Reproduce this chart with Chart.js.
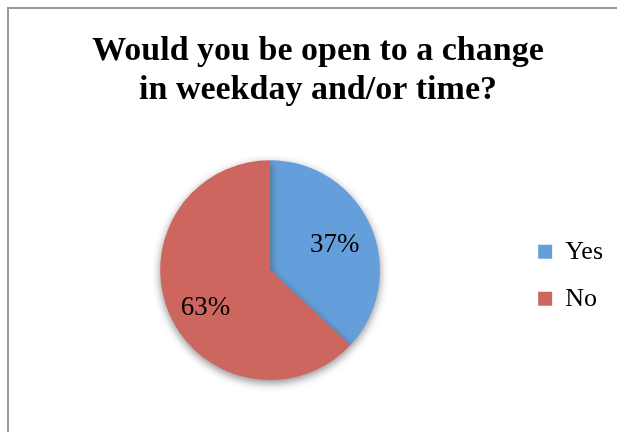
<!DOCTYPE html>
<html>
<head>
<meta charset="utf-8">
<script src="https://cdn.jsdelivr.net/npm/chart.js@4/dist/chart.umd.min.js"></script>
<style>
  html, body { margin: 0; padding: 0; background: #fff; }
  #wrap { position: relative; width: 617px; height: 432px; }
</style>
</head>
<body>
<div id="wrap"><canvas id="myChart" width="617" height="432"></canvas></div>
<script>
'use strict';
// chart data
const categories = ['Yes', 'No'];
const percentValues = [37, 63];
const sliceColors = ['#659fdb', '#cc665f'];
const titleLines = ['Would you be open to a change', 'in weekday and/or time?'];

// frame round the chart (left and top edge only visible)
const framePlugin = {
  id: 'frame',
  beforeDraw(chart) {
    const ctx = chart.ctx;
    ctx.save();
    ctx.fillStyle = '#fff';
    ctx.fillRect(0, 0, chart.width, chart.height);
    ctx.strokeStyle = '#9a9a9a';
    ctx.lineWidth = 2;
    ctx.strokeRect(8, 8, 700, 600);
    ctx.restore();
  }
};

// soft shadow under the pie
const shadowPlugin = {
  id: 'pieShadow',
  beforeDatasetsDraw(chart) {
    const ctx = chart.ctx;
    ctx.save();
    ctx.shadowColor = 'rgba(0,0,0,0.45)';
    ctx.shadowBlur = 8;
    ctx.shadowOffsetY = 3;
  },
  afterDatasetsDraw(chart) {
    chart.ctx.restore();
  }
};

// percent labels inside slices
const labelPlugin = {
  id: 'sliceLabels',
  afterDatasetsDraw(chart) {
    const ctx = chart.ctx;
    const meta = chart.getDatasetMeta(0);
    ctx.save();
    ctx.fillStyle = '#000';
    ctx.font = '27px "Liberation Serif"';
    ctx.textAlign = 'center';
    ctx.textBaseline = 'middle';
    meta.data.forEach((arc, i) => {
      const p = arc.getProps(['x', 'y', 'startAngle', 'endAngle', 'outerRadius']);
      const mid = (p.startAngle + p.endAngle) / 2;
      const d = p.outerRadius * 0.64;
      // excel sets its label boxes a bit lower on the left half
      const drop = Math.cos(mid) < 0 ? 10 : 3;
      ctx.fillText(percentValues[i] + '%', p.x + Math.cos(mid) * d, p.y + Math.sin(mid) * d + drop);
    });
    ctx.restore();
  }
};

let ctx = document.getElementById('myChart').getContext('2d');
let chart = new Chart(ctx, {
  type: 'pie',
  data: {
    labels: categories,
    datasets: [{
      data: percentValues,
      backgroundColor: sliceColors,
      borderWidth: 0
    }]
  },
  options: {
    responsive: false,
    animation: false,
    layout: { padding: { left: 23, right: 4, top: 0, bottom: 52 } },
    plugins: {
      title: {
        display: true,
        text: titleLines,
        color: '#000',
        font: { family: '"Liberation Serif"', size: 34, weight: 'bold', lineHeight: 1.15 },
        padding: { top: 32, bottom: 50 }
      },
      legend: {
        position: 'right',
        fullSize: false,
        title: { display: true, text: ' ', font: { size: 1 }, padding: 4.5 },
        labels: {
          color: '#000',
          font: { family: '"Liberation Serif"', size: 26 },
          boxWidth: 14,
          boxHeight: 14,
          padding: 21
        }
      },
      tooltip: { enabled: false }
    }
  },
  plugins: [framePlugin, shadowPlugin, labelPlugin]
});
</script>
</body>
</html>
